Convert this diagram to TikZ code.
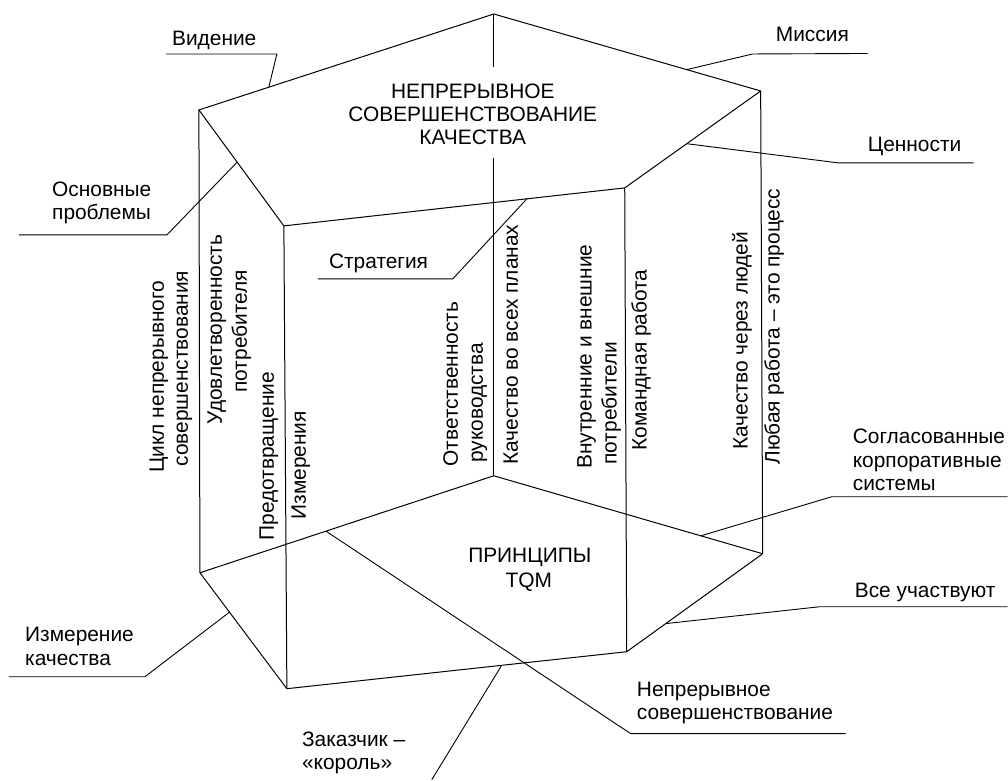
\documentclass[tikz,border=0pt]{standalone}
\usepackage{fontspec}
\setmainfont{Liberation Sans}
\usetikzlibrary{calc}
\begin{document}
\begin{tikzpicture}[x=1pt,y=-1pt,
  edge/.style={line width=1pt, line join=round},
  lead/.style={line width=0.9pt, line join=round},
  lbl/.style={inner sep=0pt, anchor=base west, font=\fontsize{20.9}{23.5}\selectfont},
  vlbl/.style={lbl, rotate=90},
  clbl/.style={lbl, anchor=base}]
\fill[white] (0,0) rectangle (1008,780);
% prism vertices
\coordinate (Tb)  at (494,14);
\coordinate (Tl)  at (199,110);
\coordinate (Tfl) at (284,226);
\coordinate (Tfr) at (625,188);
\coordinate (Tr)  at (761,91);
\coordinate (Bb)  at (494,476);
\coordinate (Bl)  at (200,573);
\coordinate (Bfl) at (287,689);
\coordinate (Bfr) at (627,652);
\coordinate (Br)  at (763,554);
\coordinate (gapA) at (494,67);
\coordinate (gapB) at (494,158);
\draw[edge] (Tb) -- (Tl) -- (Tfl) -- (Tfr) -- (Tr) -- cycle;
\draw[edge] (Bb) -- (Bl) -- (Bfl) -- (Bfr) -- (Br) -- cycle;
\draw[edge] (Tl) -- (Bl) (Tfl) -- (Bfl) (Tfr) -- (Bfr) (Tr) -- (Br);
\draw[edge] (Tb) -- (gapA) (gapB) -- (Bb);
% title
\node[clbl] (t1) at (473,99) {НЕПРЕРЫВНОЕ};
\node[clbl] (t2) at (473,122) {СОВЕРШЕНСТВОВАНИЕ};
\node[clbl] (t3) at (473,145) {КАЧЕСТВА};
\node[clbl] (p1) at (530,563) {ПРИНЦИПЫ};
\node[clbl] (p2) at (529,588) {TQM};
% vertical labels
\node[vlbl] (v1a) at (164,473) {Цикл непрерывного};
\node[vlbl] (v1b) at (188,467) {совершенствования};
\node[vlbl] (v2a) at (222,425) {Удовлетворенность};
\node[vlbl] (v2b) at (247,393) {потребителя};
\node[vlbl] (v3)  at (274,541) {Предотвращение};
\node[vlbl] (v4)  at (306,520) {Измерения};
\node[vlbl] (v5a) at (458,467) {Ответственность};
\node[vlbl] (v5b) at (483,463) {руководства};
\node[vlbl] (v6)  at (518,465) {Качество во всех планах};
\node[vlbl] (v7a) at (592,469) {Внутренние и внешние};
\node[vlbl] (v7b) at (617,465) {потребители};
\node[vlbl] (v8)  at (647,451) {Командная работа};
\node[vlbl] (v9)  at (748,450) {Качество через людей};
\node[vlbl] (v10) at (780,465) {Любая работа – это процесс};
% horizontal labels
\node[lbl] (vid) at (172,46) {Видение};
\node[lbl] (mis) at (776,42) {Миссия};
\node[lbl] (cen) at (868,152) {Ценности};
\node[lbl] (osn1) at (52,197) {Основные};
\node[lbl] (osn2) at (52,220) {проблемы};
\node[lbl] (str) at (329,269) {Стратегия};
\node[lbl] (sog1) at (853,444) {Согласованные};
\node[lbl] (sog2) at (853,468) {корпоративные};
\node[lbl] (sog3) at (853,491) {системы};
\node[lbl] (vse) at (855,598) {Все участвуют};
\node[lbl] (izm1) at (25,642) {Измерение};
\node[lbl] (izm2) at (25,666) {качества};
\node[lbl] (nep1) at (637,697) {Непрерывное};
\node[lbl] (nep2) at (637,720) {совершенствование};
\node[lbl] (zak1) at (302,747) {Заказчик –};
\node[lbl] (zak2) at (302,770) {«король»};
% leader points
\coordinate (eVid) at ($(Tb)!0.763!(Tl)$);
\coordinate (eMis) at ($(Tb)!0.723!(Tr)$);
\coordinate (eCen) at ($(Tfr)!0.456!(Tr)$);
\coordinate (eOsn) at ($(Tl)!0.45!(Tfl)$);
\coordinate (eStr) at ($(Tfl)!0.713!(Tfr)$);
\coordinate (eIzm) at ($(Bl)!0.34!(Bfl)$);
\coordinate (eZak) at ($(Bfl)!0.632!(Bfr)$);
\coordinate (eNep) at ($(Bb)!0.571!(Bl)$);
\coordinate (eSog) at ($(Bb)!0.77!(Br)$);
\coordinate (eVse) at ($(Bfr)!0.287!(Br)$);
\coordinate (kVid) at (277,54);  \coordinate (hVid) at (166,54);
\coordinate (kMis) at (753,54);  \coordinate (hMis) at (868,53.5);
\coordinate (kCen) at (839,163); \coordinate (hCen) at (974,163);
\coordinate (kOsn) at (167,235); \coordinate (hOsn) at (19,235);
\coordinate (kStr) at (453,279); \coordinate (hStr) at (318,279);
\coordinate (kIzm) at (145,677); \coordinate (hIzm) at (9,677);
\coordinate (hZak) at (432,780);
\coordinate (kNep) at (631,734); \coordinate (hNep) at (846,734);
\coordinate (kSog) at (832,497); \coordinate (hSog) at (1008,497);
\coordinate (kVse) at (820,607); \coordinate (hVse) at (1008,607);
\draw[lead] (eVid) -- (kVid) -- (hVid);
\draw[lead] (eMis) -- (kMis) -- (hMis);
\draw[lead] (eCen) -- (kCen) -- (hCen);
\draw[lead] (eOsn) -- (kOsn) -- (hOsn);
\draw[lead] (eStr) -- (kStr) -- (hStr);
\draw[lead] (eIzm) -- (kIzm) -- (hIzm);
\draw[lead] (eZak) -- (hZak);
\draw[lead] (eNep) -- (kNep) -- (hNep);
\draw[lead] (eSog) -- (kSog) -- (hSog);
\draw[lead] (eVse) -- (kVse) -- (hVse);
\end{tikzpicture}
\end{document}
